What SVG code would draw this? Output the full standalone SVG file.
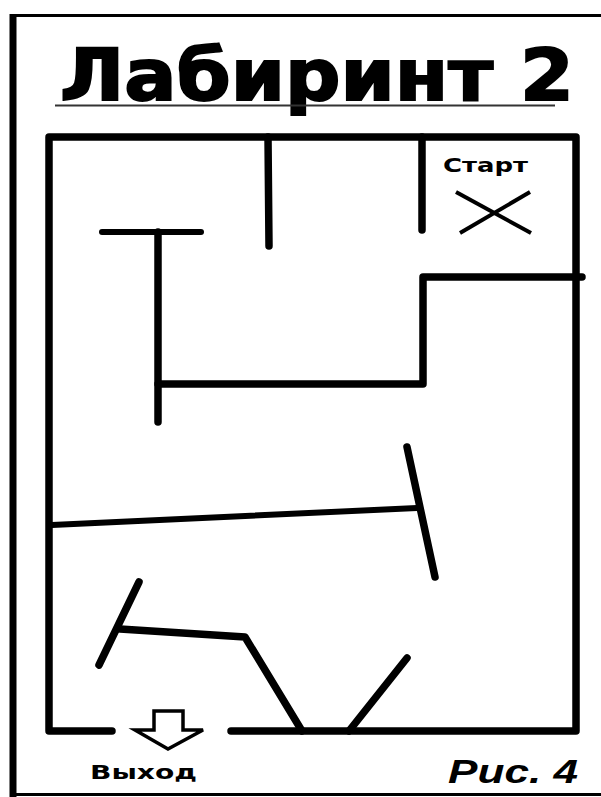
<svg xmlns="http://www.w3.org/2000/svg" width="601" height="797" viewBox="0 0 601 797">
<style>
.wall{stroke:#000;stroke-width:7.5;stroke-linecap:round;stroke-linejoin:round;fill:none}
.thin{stroke:#000;stroke-width:6;stroke-linecap:round;fill:none}
.lbl{font-family:"DejaVu Sans","Liberation Sans",sans-serif;font-weight:bold;fill:#000}
</style>
<rect width="601" height="797" fill="#fff"/>
<g id="page-frame">
<line x1="13" y1="14" x2="13" y2="797" stroke="#000" stroke-width="7"/>
<line x1="10" y1="15.5" x2="601" y2="15.5" stroke="#000" stroke-width="3"/>
<line x1="10" y1="794.5" x2="601" y2="794.5" stroke="#000" stroke-width="3"/>
</g>
<g id="title">
<text class="lbl" x="60" y="100" font-size="72" stroke="#000" stroke-width="2" textLength="514" lengthAdjust="spacingAndGlyphs">Лабиринт 2</text>
<line x1="55" y1="105.5" x2="555" y2="105.5" stroke="#333" stroke-width="2"/>
</g>
<g id="maze-frame">
<path class="wall" d="M112 731 H49 V137 H576 V731 H231" stroke-linecap="butt" stroke-linejoin="miter" stroke-width="8"/>
</g>
<g id="walls">
<line class="wall" x1="268" y1="137" x2="269" y2="246"/>
<line class="wall" x1="422" y1="137" x2="422" y2="230"/>
<path class="wall" d="M582 277 H423 V384 H158"/>
<line class="thin" x1="102" y1="232" x2="201" y2="232"/>
<line class="wall" x1="158" y1="232" x2="158" y2="422"/>
<line class="thin" x1="52" y1="525" x2="417" y2="508"/>
<line class="wall" x1="407" y1="447" x2="435" y2="577"/>
<line class="wall" x1="139" y1="582" x2="99" y2="665"/>
<path class="wall" d="M120 629 L245 637 L302 731"/>
<line class="wall" x1="407" y1="658" x2="349" y2="731"/>
</g>
<g id="start">
<text class="lbl" x="443" y="172" font-size="20" textLength="85" lengthAdjust="spacingAndGlyphs">Старт</text>
<line x1="456" y1="192" x2="531" y2="233" stroke="#000" stroke-width="4"/>
<line x1="460" y1="233" x2="530" y2="192" stroke="#000" stroke-width="4"/>
</g>
<g id="exit">
<polygon points="154,711 183,711 183,730 203,730 168,749 135,730 154,730" fill="#fff" stroke="#000" stroke-width="3.5" stroke-linejoin="miter"/>
<text class="lbl" x="90" y="779" font-size="20" textLength="107" lengthAdjust="spacingAndGlyphs">Выход</text>
</g>
<g id="figure-label">
<text x="448" y="783" font-family="'Liberation Sans',Arial,sans-serif" font-weight="bold" font-style="italic" font-size="33" textLength="130" lengthAdjust="spacingAndGlyphs">Рис. 4</text>
</g>
</svg>
